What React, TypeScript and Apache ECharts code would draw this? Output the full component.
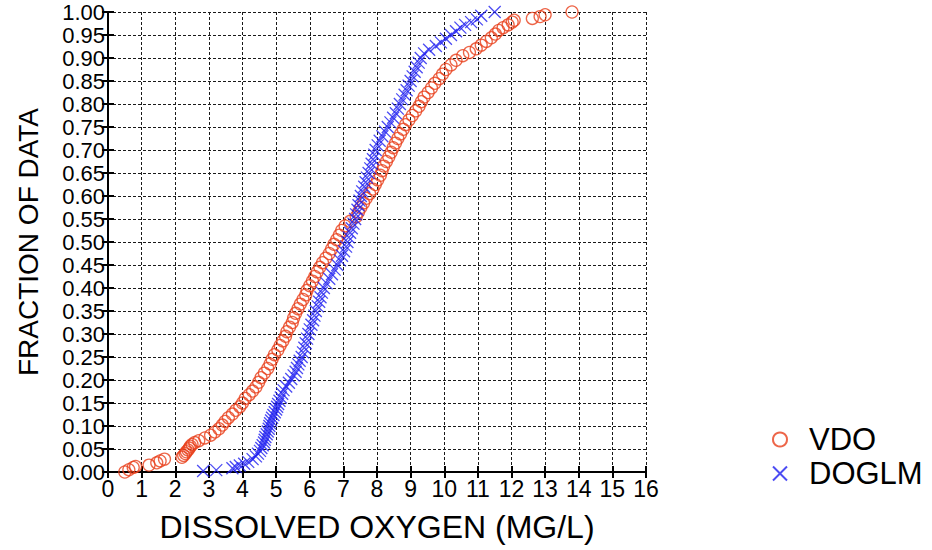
import React, { useEffect, useRef } from "react";
import * as echarts from "echarts";

// [dissolved oxygen (mg/L), fraction of data]
const vdoPoints: [number, number][] = [
  [0.50, 0.000], [0.62, 0.005], [0.75, 0.010], [0.82, 0.012], [1.22, 0.015], [1.45, 0.020], [1.55, 0.024], [1.68, 0.028],
  [2.20, 0.032], [2.25, 0.036], [2.30, 0.040], [2.33, 0.044], [2.38, 0.048], [2.42, 0.052], [2.45, 0.056], [2.50, 0.060],
  [2.58, 0.064], [2.70, 0.068], [2.88, 0.074], [3.05, 0.080], [3.18, 0.087], [3.30, 0.094], [3.40, 0.102], [3.48, 0.110],
  [3.58, 0.118], [3.70, 0.126], [3.80, 0.134], [3.92, 0.142], [4.00, 0.150], [4.08, 0.160], [4.20, 0.168], [4.30, 0.176],
  [4.40, 0.185], [4.48, 0.195], [4.55, 0.205], [4.65, 0.215], [4.75, 0.225], [4.82, 0.235], [4.88, 0.245], [4.95, 0.255],
  [5.05, 0.265], [5.12, 0.275], [5.20, 0.285], [5.28, 0.295], [5.32, 0.305], [5.40, 0.315], [5.48, 0.325], [5.52, 0.335],
  [5.58, 0.345], [5.65, 0.355], [5.72, 0.365], [5.80, 0.375], [5.88, 0.385], [5.92, 0.395], [6.00, 0.405], [6.08, 0.415],
  [6.15, 0.425], [6.22, 0.435], [6.30, 0.445], [6.38, 0.455], [6.48, 0.465], [6.58, 0.475], [6.65, 0.485], [6.72, 0.495],
  [6.80, 0.505], [6.88, 0.515], [6.95, 0.525], [7.05, 0.535], [7.20, 0.545], [7.38, 0.555], [7.45, 0.565], [7.52, 0.575],
  [7.60, 0.585], [7.68, 0.595], [7.78, 0.605], [7.88, 0.615], [7.95, 0.625], [8.02, 0.635], [8.10, 0.645], [8.15, 0.655],
  [8.20, 0.665], [8.28, 0.675], [8.35, 0.685], [8.42, 0.695], [8.48, 0.705], [8.55, 0.715], [8.62, 0.725], [8.70, 0.735],
  [8.78, 0.745], [8.85, 0.755], [8.95, 0.765], [9.05, 0.775], [9.15, 0.785], [9.25, 0.795], [9.32, 0.805], [9.40, 0.815],
  [9.52, 0.825], [9.62, 0.835], [9.72, 0.845], [9.85, 0.855], [9.95, 0.865], [10.05, 0.875], [10.20, 0.885], [10.35, 0.895],
  [10.55, 0.905], [10.75, 0.912], [10.95, 0.920], [11.10, 0.928], [11.25, 0.936], [11.40, 0.944], [11.52, 0.952], [11.62, 0.960],
  [11.75, 0.966], [11.90, 0.972], [12.02, 0.978], [12.08, 0.982], [12.62, 0.986], [12.85, 0.990], [13.00, 0.994], [13.80, 1.000],
];

const doglmPoints: [number, number][] = [
  [2.83, 0.002], [3.22, 0.004], [3.70, 0.008], [3.80, 0.011], [3.92, 0.014], [4.05, 0.018], [4.17, 0.022], [4.30, 0.028],
  [4.40, 0.034], [4.46, 0.040], [4.52, 0.046], [4.56, 0.052], [4.60, 0.058], [4.64, 0.064], [4.66, 0.070], [4.68, 0.076],
  [4.72, 0.082], [4.75, 0.088], [4.78, 0.094], [4.80, 0.100], [4.82, 0.106], [4.85, 0.112], [4.88, 0.118], [4.92, 0.124],
  [4.96, 0.130], [5.00, 0.136], [5.03, 0.142], [5.06, 0.148], [5.10, 0.155], [5.14, 0.162], [5.18, 0.170], [5.22, 0.178],
  [5.30, 0.186], [5.38, 0.194], [5.45, 0.202], [5.52, 0.210], [5.58, 0.218], [5.62, 0.226], [5.66, 0.234], [5.70, 0.242],
  [5.76, 0.250], [5.80, 0.260], [5.84, 0.270], [5.88, 0.280], [5.92, 0.290], [5.96, 0.300], [6.00, 0.310], [6.05, 0.320],
  [6.10, 0.330], [6.14, 0.340], [6.18, 0.350], [6.24, 0.360], [6.28, 0.370], [6.32, 0.380], [6.36, 0.390], [6.42, 0.400],
  [6.50, 0.410], [6.58, 0.420], [6.66, 0.430], [6.74, 0.440], [6.82, 0.450], [6.90, 0.460], [6.96, 0.470], [7.02, 0.480],
  [7.08, 0.490], [7.12, 0.500], [7.16, 0.510], [7.20, 0.520], [7.25, 0.530], [7.30, 0.540], [7.35, 0.550], [7.38, 0.560],
  [7.42, 0.570], [7.45, 0.580], [7.48, 0.590], [7.52, 0.600], [7.56, 0.610], [7.62, 0.620], [7.66, 0.630], [7.70, 0.640],
  [7.75, 0.650], [7.80, 0.660], [7.84, 0.670], [7.88, 0.680], [7.92, 0.690], [7.96, 0.700], [8.02, 0.710], [8.08, 0.720],
  [8.16, 0.730], [8.24, 0.740], [8.32, 0.750], [8.40, 0.760], [8.48, 0.770], [8.56, 0.780], [8.62, 0.790], [8.68, 0.800],
  [8.75, 0.810], [8.82, 0.820], [8.88, 0.830], [8.94, 0.840], [9.00, 0.850], [9.06, 0.860], [9.12, 0.870], [9.18, 0.880],
  [9.24, 0.890], [9.30, 0.900], [9.40, 0.910], [9.55, 0.918], [9.75, 0.926], [9.90, 0.934], [10.05, 0.942], [10.20, 0.950],
  [10.35, 0.958], [10.48, 0.966], [10.62, 0.972], [10.80, 0.978], [10.97, 0.984], [11.10, 0.992], [11.50, 1.000],
];

const seriesNames = ["VDO", "DOGLM"];
const xAxisTitle = "DISSOLVED OXYGEN (MG/L)";
const yAxisTitle = "FRACTION OF DATA";
const xMin = 0;
const xMax = 16;
const xStep = 1;
const yMin = 0;
const yMax = 1;
const yStep = 0.05;

const FONT = "'Liberation Sans', Arial, sans-serif";
const RED = "#e8401c";
const BLUE = "#1f1ff0";
const CROSS = "path://M0,0L10,10M10,0L0,10";

export default function App() {
  const ref = useRef<HTMLDivElement>(null);

  useEffect(() => {
    if (!ref.current) return;
    const chart = echarts.init(ref.current, undefined, { renderer: "svg" });
    const gridLine = { show: true, lineStyle: { color: "#1a1a1a", width: 1, type: [3, 2] as any } };
    const tick = { show: true, inside: true, length: 6, lineStyle: { color: "#000", width: 2 } };
    const axisLine = { show: true, lineStyle: { color: "#000", width: 2 } };
    chart.setOption({
      animation: false,
      backgroundColor: "#fff",
      textStyle: { fontFamily: FONT },
      grid: { left: 108, right: 286, top: 12, bottom: 78, containLabel: false },
      legend: {
        orient: "vertical",
        left: 772,
        top: 424,
        padding: 0,
        itemGap: 3,
        itemWidth: 14,
        itemHeight: 14,
        data: seriesNames,
        textStyle: { fontFamily: FONT, fontSize: 31, color: "#000", padding: [0, 0, 0, 17] },
      },
      xAxis: [
        {
          type: "value",
          min: xMin,
          max: xMax,
          interval: xStep,
          position: "bottom",
          name: xAxisTitle,
          nameLocation: "middle",
          nameGap: 39,
          nameTextStyle: { fontFamily: FONT, fontSize: 32, color: "#000" },
          axisLine,
          axisTick: tick,
          axisLabel: { fontFamily: FONT, fontSize: 23, color: "#000", margin: 5 },
          splitLine: gridLine,
        },
        {
          type: "value",
          min: xMin,
          max: xMax,
          interval: xStep,
          position: "top",
          axisLine,
          axisTick: tick,
          axisLabel: { show: false },
          splitLine: { show: false },
        },
      ],
      yAxis: [
        {
          type: "value",
          min: yMin,
          max: yMax,
          interval: yStep,
          position: "left",
          name: yAxisTitle,
          nameLocation: "middle",
          nameGap: 66,
          nameRotate: 90,
          nameTextStyle: { fontFamily: FONT, fontSize: 28, color: "#000" },
          axisLine,
          axisTick: tick,
          axisLabel: {
            fontFamily: FONT,
            fontSize: 22,
            lineHeight: 21,
            color: "#000",
            margin: 3,
            formatter: (v: number) => v.toFixed(2),
          },
          splitLine: gridLine,
        },
        {
          type: "value",
          min: yMin,
          max: yMax,
          interval: yStep,
          position: "right",
          axisLine,
          axisTick: tick,
          axisLabel: { show: false },
          splitLine: { show: false },
        },
      ],
      series: [
        {
          name: seriesNames[0],
          type: "scatter",
          xAxisIndex: 0,
          yAxisIndex: 0,
          symbol: "circle",
          symbolSize: 12,
          itemStyle: { color: "transparent", borderColor: RED, borderWidth: 1.3 },
          data: vdoPoints,
        },
        {
          name: seriesNames[1],
          type: "scatter",
          xAxisIndex: 0,
          yAxisIndex: 0,
          symbol: CROSS,
          symbolSize: 12,
          itemStyle: { color: "transparent", borderColor: BLUE, borderWidth: 1.3 },
          data: doglmPoints,
        },
      ],
    });
    return () => chart.dispose();
  }, []);

  return (
    <div
      ref={ref}
      style={{ position: "absolute", left: 0, top: 0, width: 932, height: 550 }}
    />
  );
}
